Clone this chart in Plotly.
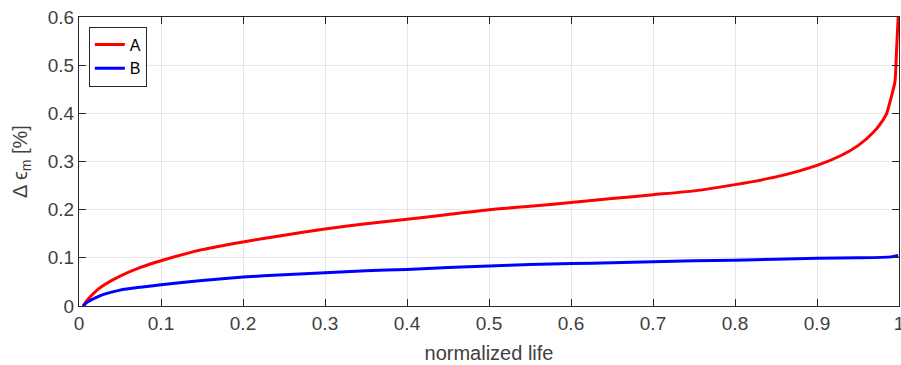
import plotly.graph_objects as go

x_a = [0.005, 0.01, 0.02, 0.03, 0.05, 0.075, 0.1, 0.15, 0.2, 0.25, 0.3, 0.35, 0.4, 0.45, 0.5, 0.55,
       0.6, 0.65, 0.7, 0.75, 0.8, 0.85, 0.9, 0.93, 0.95, 0.97, 0.98, 0.985, 0.99, 0.995, 0.997, 0.999]
y_a = [0.0, 0.012, 0.03, 0.043, 0.062, 0.08, 0.094, 0.117, 0.133, 0.147, 0.16, 0.171, 0.18, 0.19, 0.2, 0.207,
       0.215, 0.223, 0.231, 0.239, 0.252, 0.268, 0.292, 0.313, 0.333, 0.363, 0.385, 0.4, 0.43, 0.465, 0.53, 0.6]

x_b = [0.005, 0.01, 0.02, 0.03, 0.05, 0.075, 0.1, 0.15, 0.2, 0.25, 0.3, 0.35, 0.4, 0.45, 0.5, 0.55,
       0.6, 0.65, 0.7, 0.75, 0.8, 0.85, 0.9, 0.95, 0.99, 0.999]
y_b = [0.0, 0.008, 0.017, 0.024, 0.033, 0.039, 0.044, 0.053, 0.06, 0.065, 0.069, 0.073, 0.076, 0.08, 0.083, 0.086,
       0.088, 0.09, 0.092, 0.094, 0.095, 0.097, 0.099, 0.1, 0.102, 0.105]

x_ticks = [0, 0.1, 0.2, 0.3, 0.4, 0.5, 0.6, 0.7, 0.8, 0.9, 1]
x_labels = ["0", "0.1", "0.2", "0.3", "0.4", "0.5", "0.6", "0.7", "0.8", "0.9", "1"]
y_ticks = [0, 0.1, 0.2, 0.3, 0.4, 0.5, 0.6]
y_labels = ["0", "0.1", "0.2", "0.3", "0.4", "0.5", "0.6"]

font_family = "Liberation Sans, Arial, sans-serif"

fig = go.Figure()
fig.add_trace(go.Scatter(x=x_a, y=y_a, mode="lines", name="A",
                         line=dict(color="#ff0000", width=3, shape="spline", smoothing=0.6)))
fig.add_trace(go.Scatter(x=x_b, y=y_b, mode="lines", name="B",
                         line=dict(color="#0000ff", width=3, shape="spline", smoothing=0.6)))

axis_common = dict(
    showgrid=True, gridcolor="#e6e6e6", gridwidth=1,
    showline=True, linecolor="#262626", linewidth=1, mirror="ticks",
    ticks="inside", ticklen=7, tickcolor="#262626", tickwidth=1,
    zeroline=False, automargin=False,
    tickfont=dict(family=font_family, size=19, color="#404040"),
)

fig.update_layout(
    width=901, height=365,
    margin=dict(l=79, r=2, t=17, b=59),
    paper_bgcolor="white", plot_bgcolor="white",
    font=dict(family=font_family, color="#404040"),
    xaxis=dict(range=[0, 1], tickvals=x_ticks, ticktext=x_labels, ticklabeloverflow="allow",
               title=dict(text="normalized life", font=dict(size=20, color="#404040"), standoff=13),
               **axis_common),
    yaxis=dict(range=[0, 0.6], tickvals=y_ticks, ticktext=y_labels,
               title=dict(text="Δ ϵ<sub>m</sub> [%]", font=dict(size=20, color="#404040"), standoff=14),
               **axis_common),
    legend=dict(x=0.012, y=0.967, xanchor="left", yanchor="top",
                bgcolor="white", bordercolor="#262626", borderwidth=1,
                font=dict(family=font_family, size=16, color="black"),
                tracegroupgap=0, itemwidth=30),
    showlegend=True,
)

fig.write_html("out.html")
